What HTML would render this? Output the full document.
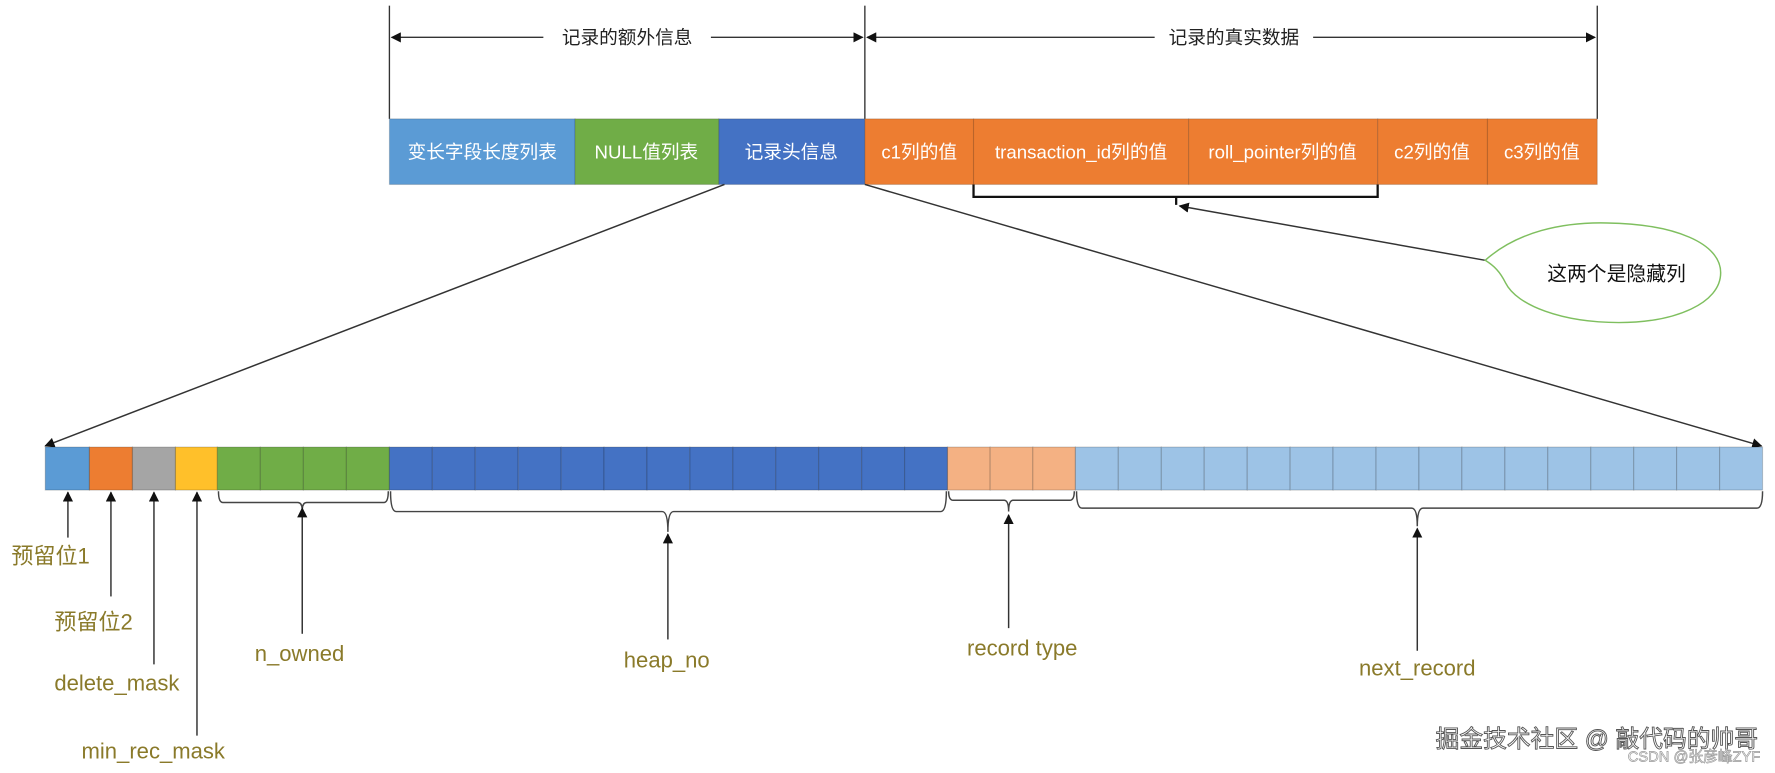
<!DOCTYPE html>
<html><head><meta charset="utf-8"><style>
html,body{margin:0;padding:0;background:#fff}
svg{display:block}
text{font-family:"Liberation Sans","Noto Sans CJK SC",sans-serif}
</style></head><body>
<svg width="1775" height="773" viewBox="0 0 1568 683" preserveAspectRatio="none" xmlns="http://www.w3.org/2000/svg">
<defs>
<marker id="a" viewBox="0 0 10 10" refX="9" refY="5" markerWidth="9" markerHeight="9" orient="auto-start-reverse" markerUnits="userSpaceOnUse"><path d="M0,0 L10,5 L0,10 z" fill="#111"/></marker>
</defs>
<rect width="1568" height="683" fill="#fff"/>
<g stroke="#333" stroke-width="1.2" fill="none">
<line x1="344" y1="5" x2="344" y2="105"/>
<line x1="764" y1="5" x2="764" y2="105"/>
<line x1="1411" y1="5" x2="1411" y2="105"/>
<line x1="480" y1="33" x2="346" y2="33" marker-end="url(#a)"/>
<line x1="628" y1="33" x2="762" y2="33" marker-end="url(#a)"/>
<line x1="1020" y1="33" x2="766" y2="33" marker-end="url(#a)"/>
<line x1="1160" y1="33" x2="1409" y2="33" marker-end="url(#a)"/>
</g>
<text x="554" y="39" font-size="16.5" text-anchor="middle" fill="#222">记录的额外信息</text>
<text x="1090" y="39" font-size="16.5" text-anchor="middle" fill="#222">记录的真实数据</text>
<g stroke="rgba(0,0,0,0.15)" stroke-width="1">
<rect x="344" y="105" width="164" height="58" fill="#5b9bd5"/>
<rect x="508" y="105" width="127" height="58" fill="#70ad47"/>
<rect x="635" y="105" width="129" height="58" fill="#4472c4"/>
<rect x="764" y="105" width="96" height="58" fill="#ed7d31"/>
<rect x="860" y="105" width="190" height="58" fill="#ed7d31"/>
<rect x="1050" y="105" width="167" height="58" fill="#ed7d31"/>
<rect x="1217" y="105" width="97" height="58" fill="#ed7d31"/>
<rect x="1314" y="105" width="97" height="58" fill="#ed7d31"/>
</g>
<g fill="#fff" font-size="16.5" text-anchor="middle">
<text x="426" y="140">变长字段长度列表</text>
<text x="571" y="140">NULL值列表</text>
<text x="699" y="140">记录头信息</text>
<text x="812" y="140">c1列的值</text>
<text x="955" y="140">transaction_id列的值</text>
<text x="1133" y="140">roll_pointer列的值</text>
<text x="1265" y="140">c2列的值</text>
<text x="1362" y="140">c3列的值</text>
</g>
<path d="M860,163 L860,174 L1217,174 L1217,163 M1039,174 L1039,181" stroke="#111" stroke-width="2" fill="none"/>
<line x1="1312" y1="230" x2="1042" y2="182" stroke="#333" stroke-width="1.3" marker-end="url(#a)"/>
<path d="M1312,230 C1340,205 1380,196 1420,197 C1480,198 1520,215 1520,241 C1520,268 1480,285 1430,285 C1380,285 1340,270 1330,250 C1325,240 1320,235 1312,230 z" fill="#fff" stroke="#7fbf5f" stroke-width="1.3"/>
<text x="1428" y="248" font-size="17.5" text-anchor="middle" fill="#111">这两个是隐藏列</text>
<line x1="640" y1="163" x2="40" y2="394" stroke="#333" stroke-width="1.3" marker-end="url(#a)"/>
<line x1="764" y1="163" x2="1556" y2="394" stroke="#333" stroke-width="1.3" marker-end="url(#a)"/>
<g stroke="rgba(0,0,0,0.18)" stroke-width="1">
<rect x="40" y="395" width="39" height="38" fill="#5b9bd5"/>
<rect x="79" y="395" width="38" height="38" fill="#ed7d31"/>
<rect x="117" y="395" width="38" height="38" fill="#a5a5a5"/>
<rect x="155" y="395" width="37" height="38" fill="#ffc02a"/>
<g fill="#70ad47">
<rect x="192" y="395" width="38" height="38"/><rect x="230" y="395" width="38" height="38"/><rect x="268" y="395" width="38" height="38"/><rect x="306" y="395" width="38" height="38"/>
</g>
<g fill="#4472c4">
<rect x="344" y="395" width="37.9" height="38"/><rect x="381.9" y="395" width="37.9" height="38"/><rect x="419.8" y="395" width="37.9" height="38"/><rect x="457.8" y="395" width="37.9" height="38"/><rect x="495.7" y="395" width="37.9" height="38"/><rect x="533.6" y="395" width="37.9" height="38"/><rect x="571.5" y="395" width="37.9" height="38"/><rect x="609.5" y="395" width="37.9" height="38"/><rect x="647.4" y="395" width="37.9" height="38"/><rect x="685.3" y="395" width="37.9" height="38"/><rect x="723.2" y="395" width="37.9" height="38"/><rect x="761.2" y="395" width="37.9" height="38"/><rect x="799.1" y="395" width="37.9" height="38"/>
</g>
<g fill="#f4b183">
<rect x="837" y="395" width="37.7" height="38"/><rect x="874.7" y="395" width="37.7" height="38"/><rect x="912.4" y="395" width="37.6" height="38"/>
</g>
<g fill="#9dc3e6">
<rect x="950" y="395" width="37.9" height="38"/><rect x="987.9" y="395" width="38" height="38"/><rect x="1025.9" y="395" width="37.9" height="38"/><rect x="1063.8" y="395" width="38" height="38"/><rect x="1101.8" y="395" width="37.9" height="38"/><rect x="1139.7" y="395" width="37.9" height="38"/><rect x="1177.6" y="395" width="38" height="38"/><rect x="1215.6" y="395" width="37.9" height="38"/><rect x="1253.5" y="395" width="37.9" height="38"/><rect x="1291.4" y="395" width="38" height="38"/><rect x="1329.4" y="395" width="37.9" height="38"/><rect x="1367.3" y="395" width="38" height="38"/><rect x="1405.3" y="395" width="37.9" height="38"/><rect x="1443.2" y="395" width="37.9" height="38"/><rect x="1481.1" y="395" width="38" height="38"/><rect x="1519.1" y="395" width="37.9" height="38"/>
</g>
</g>
<g stroke="#444" stroke-width="1.3" fill="none">
<path d="M193,434 Q193,444 197,444 L263,444 Q267,444 267,451 Q267,444 271,444 L339,444 Q343,444 343,434"/>
<path d="M345,434 Q345,452 350,452 L585,452 Q590,452 590,470 Q590,452 595,452 L831,452 Q836,452 836,434"/>
<path d="M838,434 Q838,442 842,442 L887,442 Q891,442 891,452 Q891,442 895,442 L945,442 Q949,442 949,434"/>
<path d="M951,434 Q951,449 956,449 L1247,449 Q1252,449 1252,465 Q1252,449 1257,449 L1552,449 Q1557,449 1557,434"/>
</g>
<g stroke="#333" stroke-width="1.3" fill="none">
<line x1="60" y1="475" x2="60" y2="435" marker-end="url(#a)"/>
<line x1="98" y1="527" x2="98" y2="435" marker-end="url(#a)"/>
<line x1="136" y1="587" x2="136" y2="435" marker-end="url(#a)"/>
<line x1="174" y1="650" x2="174" y2="435" marker-end="url(#a)"/>
<line x1="267" y1="560" x2="267" y2="449" marker-end="url(#a)"/>
<line x1="590" y1="565" x2="590" y2="472" marker-end="url(#a)"/>
<line x1="891" y1="555" x2="891" y2="455" marker-end="url(#a)"/>
<line x1="1252" y1="575" x2="1252" y2="467" marker-end="url(#a)"/>
</g>
<g fill="#8a7a2a" font-size="19.5">
<text x="10" y="498">预留位1</text>
<text x="48" y="556">预留位2</text>
<text x="48" y="610">delete_mask</text>
<text x="72" y="670">min_rec_mask</text>
<text x="225" y="584">n_owned</text>
<text x="589" y="590" text-anchor="middle">heap_no</text>
<text x="903" y="579" text-anchor="middle">record type</text>
<text x="1252" y="597" text-anchor="middle">next_record</text>
</g>
<text x="1553" y="660" font-size="21" text-anchor="end" fill="#fff" stroke="#555" stroke-width="0.8">掘金技术社区 @ 敲代码的帅哥</text>
<text x="1555" y="673" font-size="13" text-anchor="end" fill="#fff" stroke="#999" stroke-width="0.6">CSDN @张彦峰ZYF</text>
</svg>
</body></html>
